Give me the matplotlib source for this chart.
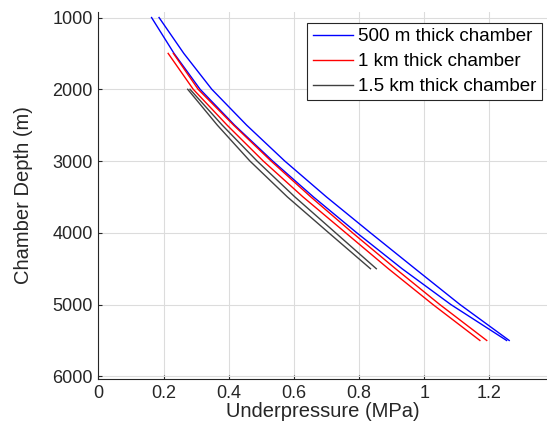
import matplotlib
matplotlib.use("Agg")
import matplotlib.pyplot as plt

plt.rcParams['font.family'] = ['Liberation Sans', 'DejaVu Sans']

# depth (m) and underpressure (MPa), two curves per chamber
depth_500 = [1000, 1500, 2000, 2500, 3000, 3500, 4000, 4500, 5000, 5500]
p_500_a = [0.163, 0.232, 0.312, 0.418, 0.535, 0.660, 0.793, 0.932, 1.082, 1.253]
p_500_b = [0.186, 0.262, 0.348, 0.455, 0.572, 0.700, 0.835, 0.972, 1.110, 1.261]

depth_1k = [1500, 2000, 2500, 3000, 3500, 4000, 4500, 5000, 5500]
p_1k_a = [0.214, 0.291, 0.395, 0.506, 0.628, 0.759, 0.890, 1.027, 1.171]
p_1k_b = [0.230, 0.306, 0.415, 0.530, 0.652, 0.780, 0.912, 1.048, 1.192]

depth_15k = [2000, 2500, 3000, 3500, 4000, 4500]
p_15k_a = [0.274, 0.365, 0.465, 0.580, 0.707, 0.835]
p_15k_b = [0.281, 0.380, 0.487, 0.603, 0.728, 0.853]

labels = ['500 m thick chamber', '1 km thick chamber', '1.5 km thick chamber']
xticks = [0, 0.2, 0.4, 0.6, 0.8, 1, 1.2]
yticks = [1000, 2000, 3000, 4000, 5000, 6000]

fig = plt.figure(figsize=(5.47, 4.38), dpi=100)
ax = fig.add_axes([0.18, 0.1347, 0.82, 0.8379])

lw = 1.0
ax.plot(p_500_a, depth_500, color='#0000ff', lw=lw, label=labels[0])
ax.plot(p_500_b, depth_500, color='#0000ff', lw=lw)
ax.plot(p_1k_a, depth_1k, color='#ff0000', lw=lw, label=labels[1])
ax.plot(p_1k_b, depth_1k, color='#ff0000', lw=lw)
ax.plot(p_15k_a, depth_15k, color='#404040', lw=lw, label=labels[2])
ax.plot(p_15k_b, depth_15k, color='#404040', lw=lw)

ax.set_xlim(0, 1.377)
ax.set_ylim(6037, 923)
ax.set_xticks(xticks)
ax.set_xticklabels(['0', '0.2', '0.4', '0.6', '0.8', '1', '1.2'])
ax.set_yticks(yticks)

ax.grid(True, color='#dcdcdc', lw=0.8)
ax.set_axisbelow(True)
for s in ['top', 'right']:
    ax.spines[s].set_visible(False)
for s in ['left', 'bottom']:
    ax.spines[s].set_color('#262626')
    ax.spines[s].set_linewidth(0.8)
ax.tick_params(direction='in', length=3, width=0.8, colors='#262626',
               labelsize=13, labelcolor='#262626', pad=4)

ax.set_xlabel('Underpressure (MPa)', fontsize=14.5, color='#262626', labelpad=0)
ax.set_ylabel('Chamber Depth (m)', fontsize=14.5, color='#262626', labelpad=14)

leg = ax.legend(loc='upper right', bbox_to_anchor=(0.990, 0.948),
                bbox_transform=fig.transFigure, borderaxespad=0,
                fontsize=13.5, handlelength=2.15, handletextpad=0.27,
                labelspacing=0.42, borderpad=0.28, fancybox=False,
                framealpha=1, edgecolor='#262626')
leg.get_frame().set_linewidth(0.8)

fig.savefig('out.png', dpi=100)
